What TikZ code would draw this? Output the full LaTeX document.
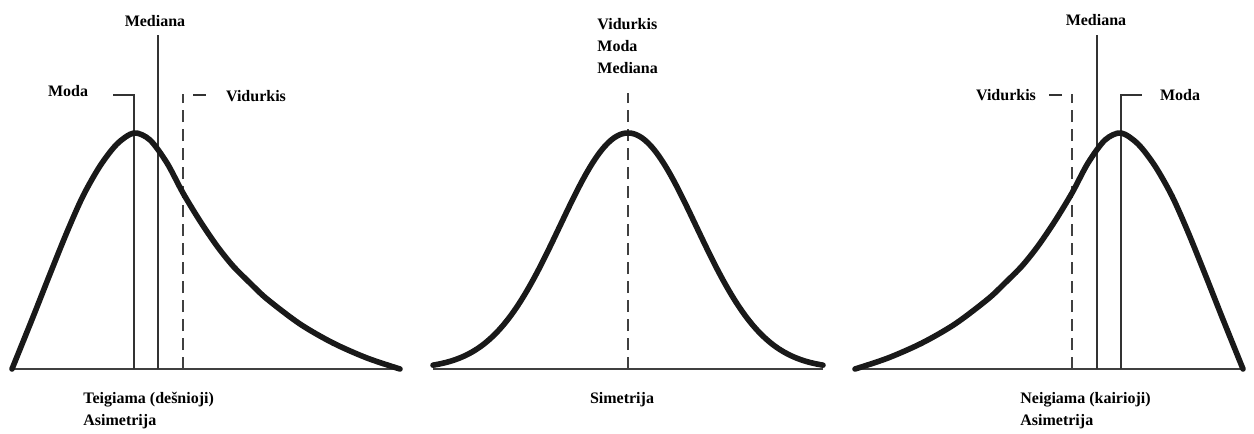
\documentclass[tikz,border=0pt]{standalone}
\usepackage{fontspec}
\setmainfont{Liberation Serif}
\usetikzlibrary{positioning}

\begin{document}
\begin{tikzpicture}[
  x=0.5pt, y=-0.5pt,
  lbl/.style={font=\fontsize{8}{11}\selectfont\bfseries, inner sep=0pt, align=left},
  curve/.style={line width=2.8pt, line cap=round, black!90},
  axisline/.style={line width=0.85pt, black!75},
  mline/.style={line width=0.85pt, black!80},
  meanline/.style={line width=1.1pt, black!75, dash pattern=on 6pt off 3.5pt},
  skewpanel/.pic={
    \draw[axisline] (12,369) -- (400,369);
    \draw[mline] (134,369) -- (134,95) -- (113,95);
    \draw[mline] (158,369) -- (158,35);
    \draw[meanline] (183,369) -- (183,94);
    \draw[mline] (193,95) -- (206,95);
    \draw[curve] plot[smooth] coordinates {(12,369) (33,317) (50,274) (67,232)
      (83,196) (100,166) (117,144) (134,133) (150,140) (167,163) (183,193)
      (200,221) (217,246) (233,266) (250,283) (267,299) (300,324) (333,343)
      (367,358) (400,369)};
  }
]
\useasboundingbox (0,0) rectangle (1254,434);

% teigiama asimetrija
\pic at (0,0) {skewpanel};
\node[lbl] (lmediana) at (155,21) {Mediana};
\node[lbl] (lmoda) at (68,91) {Moda};
\node[lbl] (lvidurkis) at (256,96) {Vidurkis};
\node[lbl, anchor=west] (ltitle) at (83,411) {Teigiama (dešnioji)\\Asimetrija};

% simetrija
\draw[axisline] (433,369) -- (823,369);
\draw[meanline] (628,369) -- (628,93);
\draw[curve] plot[domain=433:823, samples=90, smooth] (\x,{369-236*exp(-0.5*((\x-628)/68)^2)});
\node[lbl, anchor=west] (mtop) at (597,46) {Vidurkis\\Moda\\Mediana};
\node[lbl] (mtitle) at (622,400) {Simetrija};

% neigiama asimetrija
\pic[xscale=-1] at (1255,0) {skewpanel};
\node[lbl] (rmediana) at (1096,20) {Mediana};
\node[lbl] (rvidurkis) at (1006,95) {Vidurkis};
\node[lbl] (rmoda) at (1180,95) {Moda};
\node[lbl, anchor=west] (rtitle) at (1020,411) {Neigiama (kairioji)\\Asimetrija};
\end{tikzpicture}
\end{document}
